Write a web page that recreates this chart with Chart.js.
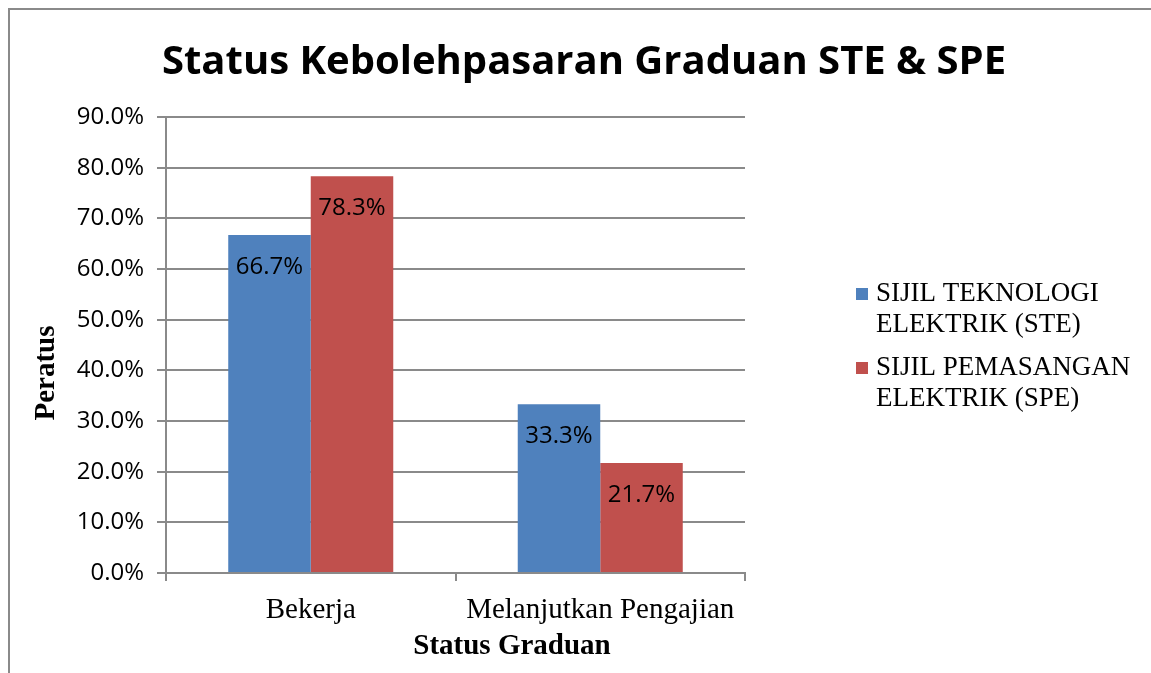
<!DOCTYPE html>
<html>
<head>
<meta charset="utf-8">
<script src="https://cdn.jsdelivr.net/npm/chart.js@4.4.0/dist/chart.umd.min.js"></script>
<style>
  html, body { margin:0; padding:0; background:#fff; overflow:hidden; }
  #wrap { position:absolute; left:0; top:0; width:1151px; height:673px; }
  #frame { position:absolute; left:8px; top:8px; width:1300px; height:900px; border:2px solid #8a8a8a; box-sizing:border-box; }
  canvas { position:absolute; left:0; top:0; }
</style>
</head>
<body>
<div id="frame"></div>
<div id="wrap"><canvas id="c" width="1151" height="673"></canvas></div>
<script>
const chartTitle = 'Status Kebolehpasaran Graduan STE & SPE';
const categories = ['Bekerja', 'Melanjutkan Pengajian'];
const seriesNames = [['SIJIL TEKNOLOGI', 'ELEKTRIK (STE)'], ['SIJIL PEMASANGAN', 'ELEKTRIK (SPE)']];
const steValues = [66.7, 33.3];
const speValues = [78.3, 21.7];
const seriesColors = ['#4F81BD', '#C0504D'];
const xAxisTitle = 'Status Graduan';
const yAxisTitle = 'Peratus';
const yMax = 90;
const yStep = 10;

const SANS = '"Open Sans", "Noto Sans", sans-serif';
const SERIF = '"Liberation Serif", "DejaVu Serif", serif';

const extras = {
  id: 'extras',
  afterDatasetsDraw(chart) {
    const ctx = chart.ctx;
    ctx.save();
    ctx.font = '24px ' + SANS;
    ctx.fillStyle = '#000';
    ctx.textAlign = 'center';
    ctx.textBaseline = 'middle';
    chart.data.datasets.forEach((ds, i) => {
      const meta = chart.getDatasetMeta(i);
      meta.data.forEach((bar, j) => {
        ctx.fillText(ds.data[j].toFixed(1) + '%', bar.x, bar.y + 32);
      });
    });
    ctx.restore();
  },
  afterDraw(chart) {
    const ctx = chart.ctx;
    ctx.save();
    ctx.fillStyle = '#000';
    ctx.textAlign = 'center';
    ctx.textBaseline = 'middle';
    ctx.font = 'bold 40px ' + SANS;
    ctx.fillText(chartTitle, 584, 63);
    ctx.font = 'bold 29px ' + SERIF;
    ctx.fillText(xAxisTitle, 512, 647);
    ctx.save();
    ctx.translate(47, 373);
    ctx.rotate(-Math.PI / 2);
    ctx.fillText(yAxisTitle, 0, 0);
    ctx.restore();
    ctx.textAlign = 'left';
    ctx.font = '27px ' + SERIF;
    const legendX = 856, legendY = [294, 368], lineH = 31;
    chart.data.datasets.forEach((ds, i) => {
      ctx.fillStyle = ds.backgroundColor;
      ctx.fillRect(legendX, legendY[i] - 6, 12, 12);
      ctx.fillStyle = '#000';
      seriesNames[i].forEach((t, k) => ctx.fillText(t, legendX + 20, legendY[i] + k * lineH));
    });
    ctx.restore();
  }
};

new Chart(document.getElementById('c'), {
  type: 'bar',
  data: {
    labels: categories,
    datasets: [
      { label: seriesNames[0].join(' '), data: steValues, backgroundColor: seriesColors[0] },
      { label: seriesNames[1].join(' '), data: speValues, backgroundColor: seriesColors[1] }
    ]
  },
  options: {
    responsive: false,
    animation: false,
    events: [],
    layout: { padding: { left: 0, top: 117, right: 406, bottom: 0 } },
    plugins: { legend: { display: false }, title: { display: false }, tooltip: { enabled: false } },
    datasets: { bar: { categoryPercentage: 0.57, barPercentage: 1.0 } },
    scales: {
      x: {
        afterFit(s) { s.height = 100; },
        grid: { offset: true, drawOnChartArea: false, color: '#8a8a8a', lineWidth: 2, tickLength: 8 },
        border: { color: '#8a8a8a', width: 2 },
        ticks: { color: '#000', font: { family: SERIF, size: 29 }, padding: 12 }
      },
      y: {
        min: 0, max: yMax,
        afterFit(s) { s.width = 166; },
        grid: { color: '#8a8a8a', lineWidth: 2, tickLength: 9 },
        border: { color: '#8a8a8a', width: 2 },
        ticks: { stepSize: yStep, color: '#000', font: { family: SANS, size: 24 }, padding: 13,
                 callback: v => v.toFixed(1) + '%' }
      }
    }
  },
  plugins: [extras]
});
</script>
</body>
</html>
